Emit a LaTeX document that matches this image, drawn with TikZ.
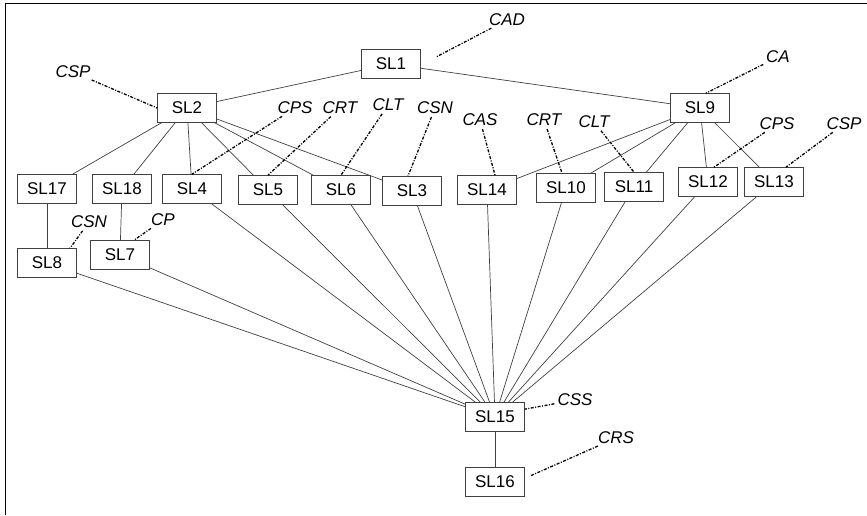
\documentclass[tikz,border=0pt]{standalone}
\usepackage{fontspec}
\setmainfont{Liberation Sans}
\usetikzlibrary{positioning}

\begin{document}
\begin{tikzpicture}[
		x=1pt, y=-1pt,
		every edge/.style = {draw=black!75, line width=0.7pt},
		box/.style = {rectangle, draw=black!75, line width=0.7pt, fill=white,
			minimum width=59pt, minimum height=29pt, inner sep=0pt,
			font=\fontsize{17}{20}\selectfont},
		lbl/.style = {inner sep=1pt, font=\fontsize{17}{20}\selectfont\itshape},
		dsh/.style = {draw=black, line width=1.3pt,
			dash pattern=on 3pt off 1.5pt on 1pt off 1.5pt, shorten <=2pt}
                    ]
		\useasboundingbox (0,0) rectangle (867,515);
		\draw[line width=1pt] (5,515) -- (5,3) -- (867,3);

		% boxes
		\node(SL1) [box] at (391, 64) {SL1};
		\node(SL2) [box] at (187,108) {SL2};
		\node(SL9) [box] at (700,108) {SL9};
		\node(SL17) [box] at (47,189) {SL17};
		\node(SL18) [box] at (122,189) {SL18};
		\node(SL4) [box] at (192,189) {SL4};
		\node(SL5) [box] at (268,190) {SL5};
		\node(SL6) [box] at (341,190) {SL6};
		\node(SL3) [box] at (412,191) {SL3};
		\node(SL14) [box] at (487,190) {SL14};
		\node(SL10) [box] at (566,188) {SL10};
		\node(SL11) [box] at (634,187) {SL11};
		\node(SL12) [box] at (708,182) {SL12};
		\node(SL13) [box] at (774,182) {SL13};
		\node(SL8) [box] at (47,263) {SL8};
		\node(SL7) [box] at (120,255) {SL7};
		\node(SL15) [box] at (495,417) {SL15};
		\node(SL16) [box] at (495,482) {SL16};

		% labels
		\node(CAD) [lbl] at (507,20) {CAD};
		\node(CSPa) [lbl] at (73,72) {CSP};
		\node(CPSa) [lbl] at (295,108) {CPS};
		\node(CRTa) [lbl] at (340,108) {CRT};
		\node(CLTa) [lbl] at (388,105) {CLT};
		\node(CSNa) [lbl] at (435,108) {CSN};
		\node(CAS) [lbl] at (480,120) {CAS};
		\node(CRTb) [lbl] at (544,120) {CRT};
		\node(CLTb) [lbl] at (594,122) {CLT};
		\node(CA) [lbl] at (778,57) {CA};
		\node(CPSb) [lbl] at (777,124) {CPS};
		\node(CSPb) [lbl] at (844,124) {CSP};
		\node(CSNb) [lbl] at (89,222) {CSN};
		\node(CP) [lbl] at (163,220) {CP};
		\node(CSS) [lbl] at (575,400) {CSS};
		\node(CRS) [lbl] at (616,438) {CRS};
		\coordinate(CADend) at (436,57);
		\coordinate(CRSend) at (530,476);

		\path   (SL1) edge (SL2)
		        (SL1) edge (SL9)
		        (SL2) edge (SL17)
		        (SL2) edge (SL18)
		        (SL2) edge (SL4)
		        (SL2) edge (SL5)
		        (SL2) edge (SL6)
		        (SL2) edge (SL3)
		        (SL9) edge (SL14)
		        (SL9) edge (SL10)
		        (SL9) edge (SL11)
		        (SL9) edge (SL12)
		        (SL9) edge (SL13)
		        (SL17) edge (SL8)
		        (SL18) edge (SL7)
		        (SL8) edge (SL15)
		        (SL7) edge (SL15)
		        (SL4) edge (SL15)
		        (SL5) edge (SL15)
		        (SL6) edge (SL15)
		        (SL3) edge (SL15)
		        (SL14) edge (SL15)
		        (SL10) edge (SL15)
		        (SL11) edge (SL15)
		        (SL12) edge (SL15)
		        (SL13) edge (SL15)
		        (SL15) edge (SL16);

		% dash-dot pointers
		\draw[dsh] (CAD) -- (CADend);
		\draw[dsh] (CSPa) -- (SL2.west);
		\draw[dsh] (CPSa) -- (SL4.north);
		\draw[dsh] (CRTa) -- (SL5.north);
		\draw[dsh] (CLTa) -- (SL6.north);
		\draw[dsh] (CSNa) -- ([xshift=-4pt]SL3.north);
		\draw[dsh] (CAS) -- ([xshift=8pt]SL14.north);
		\draw[dsh] (CRTb) -- ([xshift=-4pt]SL10.north);
		\draw[dsh] (CLTb) -- (SL11.north);
		\draw[dsh] (CA) -- ([xshift=6pt]SL9.north);
		\draw[dsh] (CPSb) -- ([xshift=6pt]SL12.north);
		\draw[dsh] (CSPb) -- ([xshift=12pt]SL13.north);
		\draw[dsh] (CSNb) -- ([xshift=23pt]SL8.north);
		\draw[dsh] (CP) -- ([xshift=14pt]SL7.north);
		\draw[dsh] (CSS) -- ([yshift=-7pt]SL15.north east);
		\draw[dsh] (CRS) -- (CRSend);
	\end{tikzpicture}
\end{document}
